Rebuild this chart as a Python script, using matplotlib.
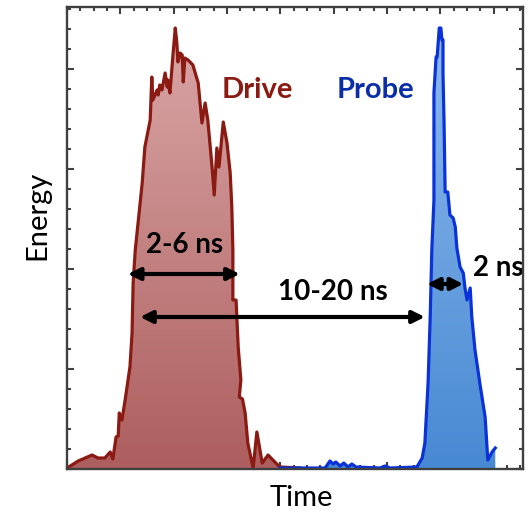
import matplotlib
matplotlib.use("Agg")
import matplotlib.pyplot as plt
import numpy as np
from matplotlib.colors import LinearSegmentedColormap
from matplotlib.patches import Polygon
from matplotlib.ticker import MultipleLocator

plt.rcParams['font.family'] = ['Lato', 'DejaVu Sans']

# --- data (arbitrary units) ---
drive_t = [0.00, 0.15, 0.21, 0.47, 0.58, 0.71, 0.81, 0.86, 0.92, 0.96, 0.98, 1.03,
           1.09, 1.18, 1.22, 1.24, 1.28, 1.41, 1.46, 1.56, 1.59, 1.61, 1.69, 1.71,
           1.74, 1.78, 1.84, 1.88, 1.89, 1.93, 1.99, 2.03, 2.06, 2.08, 2.12, 2.16,
           2.18, 2.21, 2.27, 2.36, 2.46, 2.53, 2.59, 2.64, 2.72, 2.76, 2.81, 2.85,
           2.93, 3.00, 3.06, 3.09, 3.11, 3.11, 3.17, 3.21, 3.26, 3.23, 3.29, 3.34,
           3.39, 3.49, 3.56, 3.66, 3.77, 3.86, 3.99, 4.37]
drive_e = [0.01, 0.06, 0.08, 0.14, 0.11, 0.11, 0.17, 0.10, 0.32, 0.33, 0.56, 0.49,
           0.69, 1.02, 1.36, 1.86, 2.19, 2.86, 3.22, 3.49, 3.92, 3.69, 3.79, 3.74,
           3.84, 3.79, 3.96, 3.82, 3.89, 3.76, 4.16, 4.41, 4.26, 4.07, 4.16, 4.14,
           3.87, 4.11, 4.09, 4.04, 3.86, 3.46, 3.66, 3.49, 3.02, 2.74, 3.21, 3.02,
           3.47, 3.26, 2.96, 2.62, 2.19, 1.69, 1.69, 1.22, 0.89, 0.72, 0.70, 0.56,
           0.26, 0.01, 0.37, 0.06, 0.14, 0.09, 0.02, 0.01]

probe_t = [3.99, 4.84, 4.93, 4.99, 5.04, 5.12, 5.19, 5.27, 5.34, 5.42, 5.87, 5.96,
           6.06, 6.56, 6.66, 6.71, 6.77, 6.81, 6.84, 6.88, 6.88, 6.92, 6.94, 6.98,
           7.01, 7.03, 7.05, 7.05, 7.07, 7.09, 7.14, 7.18, 7.24, 7.28, 7.31, 7.37,
           7.43, 7.46, 7.50, 7.56, 7.59, 7.65, 7.74, 7.84, 7.89, 7.97, 8.03]
probe_e = [0.01, 0.01, 0.08, 0.05, 0.07, 0.03, 0.06, 0.02, 0.05, 0.02, 0.01, 0.03,
           0.01, 0.02, 0.11, 0.26, 0.86, 1.52, 2.19, 2.69, 3.76, 4.12, 4.12, 4.41,
           4.41, 4.29, 4.29, 3.96, 3.46, 2.77, 2.77, 2.54, 2.51, 2.42, 2.21, 2.02,
           1.96, 1.82, 1.69, 1.81, 1.52, 1.19, 0.86, 0.52, 0.09, 0.17, 0.21]

XMAX, YMAX = 8.55, 4.62


def gradient_fill(ax, t, e, top, bottom, line, zorder):
    t = np.asarray(t)
    e = np.asarray(e)
    verts = np.column_stack([np.r_[t, t[::-1]], np.r_[e, np.zeros_like(e)]])
    poly = Polygon(verts, closed=True, facecolor='none', edgecolor='none')
    ax.add_patch(poly)
    cmap = LinearSegmentedColormap.from_list('g', [bottom, top])
    grad = np.linspace(0, 1, 256).reshape(-1, 1)
    im = ax.imshow(grad, extent=[0, XMAX, 0, YMAX], aspect='auto', origin='lower',
                   cmap=cmap, zorder=zorder)
    im.set_clip_path(poly)
    ax.plot(t, e, color=line, lw=2.3, zorder=zorder + 1)


fig = plt.figure(figsize=(5.31, 5.14), dpi=100)
ax = fig.add_axes([67 / 531, 1 - 469 / 514, 456 / 531, 462 / 514])

gradient_fill(ax, drive_t, drive_e, '#dcaaaa', '#ad5e5e', '#8a1a12', 2)
gradient_fill(ax, probe_t, probe_e, '#93bdf0', '#4789d2', '#0a32d8', 2)

ax.set_xlim(0, XMAX)
ax.set_ylim(0, YMAX)

ax.xaxis.set_major_locator(MultipleLocator(1))
ax.xaxis.set_minor_locator(MultipleLocator(0.25))
ax.yaxis.set_major_locator(MultipleLocator(1))
ax.yaxis.set_minor_locator(MultipleLocator(0.2))
ax.tick_params(which='both', direction='in', top=True, right=True,
               labelbottom=False, labelleft=False, color='#404040', width=1.5)
ax.tick_params(which='major', length=5)
ax.tick_params(which='minor', length=3)
for s in ax.spines.values():
    s.set_color('#404040')
    s.set_linewidth(1.7)
    s.set_zorder(5)

ax.set_xlabel('Time', fontsize=21)
ax.set_ylabel('Energy', fontsize=21)
ax.xaxis.set_label_coords(0.513, -0.063)
ax.yaxis.set_label_coords(-0.064, 0.55)
ax.xaxis.label.set_va('center')
ax.yaxis.label.set_va('center')

ax.text(3.56, 3.79, 'Drive', color='#8a1a12', fontsize=21, fontweight='bold',
        ha='center', va='center')
ax.text(5.79, 3.79, 'Probe', color='#0a2ea8', fontsize=21, fontweight='bold',
        ha='center', va='center')

ax.text(2.21, 2.24, '2-6 ns', fontsize=20, fontweight='bold', ha='center', va='center')
ax.text(4.99, 1.77, '10-20 ns', fontsize=20, fontweight='bold', ha='center', va='center')
ax.text(8.08, 2.01, '2 ns', fontsize=20, fontweight='bold', ha='center', va='center',
        clip_on=False)

arrow = dict(arrowstyle='<|-|>', lw=3, color='black', mutation_scale=18,
             shrinkA=0, shrinkB=0)
ax.annotate('', xy=(1.14, 1.95), xytext=(3.24, 1.95), arrowprops=arrow, zorder=6)
ax.annotate('', xy=(1.37, 1.52), xytext=(6.71, 1.52), arrowprops=arrow, zorder=6)
ax.annotate('', xy=(6.75, 1.85), xytext=(7.43, 1.85), arrowprops=arrow, zorder=6)

fig.savefig('out.png', dpi=100)
